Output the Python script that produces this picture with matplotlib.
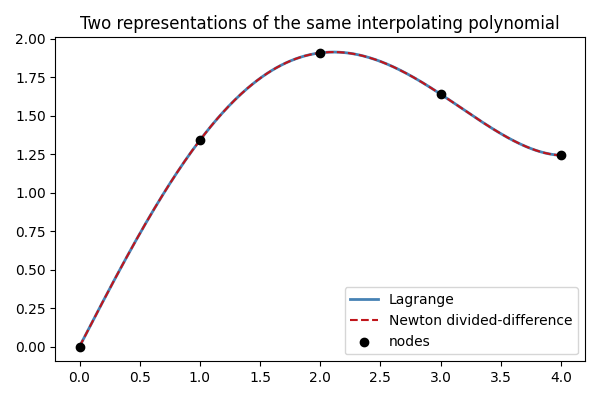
import numpy as np
import matplotlib
matplotlib.use("Agg")
import matplotlib.pyplot as plt

# interpolation nodes
x_nodes = [0.0, 1.0, 2.0, 3.0, 4.0]
y_nodes = [0.0, 1.341, 1.909, 1.641, 1.243]


def lagrange_eval(xn, yn, x):
    total = np.zeros_like(x)
    for i in range(len(xn)):
        term = np.ones_like(x) * yn[i]
        for j in range(len(xn)):
            if j != i:
                term *= (x - xn[j]) / (xn[i] - xn[j])
        total += term
    return total


def newton_eval(xn, yn, x):
    # divided-difference coefficients
    coef = list(yn)
    n = len(xn)
    for k in range(1, n):
        for i in range(n - 1, k - 1, -1):
            coef[i] = (coef[i] - coef[i - 1]) / (xn[i] - xn[i - k])
    result = np.ones_like(x) * coef[-1]
    for i in range(n - 2, -1, -1):
        result = result * (x - xn[i]) + coef[i]
    return result


xs = np.linspace(min(x_nodes), max(x_nodes), 400)

fig, ax = plt.subplots(figsize=(6, 4), dpi=100)
ax.plot(xs, lagrange_eval(x_nodes, y_nodes, xs), color="steelblue", lw=2, label="Lagrange")
ax.plot(xs, newton_eval(x_nodes, y_nodes, xs), color="#c0151b", lw=1.5, ls="--", label="Newton divided-difference")
ax.scatter(x_nodes, y_nodes, color="black", s=36, zorder=3, label="nodes")
ax.set_title("Two representations of the same interpolating polynomial")
ax.legend(loc="lower right")
fig.tight_layout()
fig.savefig("out.png")
